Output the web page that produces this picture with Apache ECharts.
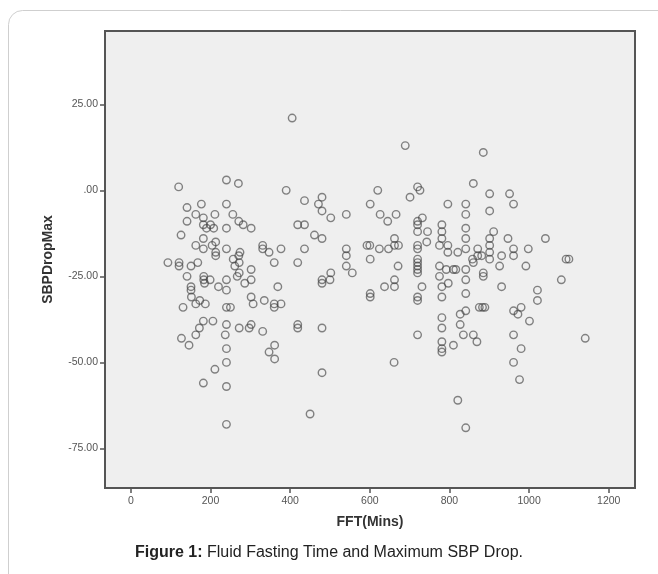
<!DOCTYPE html>
<html>
<head>
<meta charset="utf-8">
<script src="https://cdn.jsdelivr.net/npm/echarts@6/dist/echarts.min.js"></script>
<style>
  html, body { margin: 0; padding: 0; background: #fff; }
  #chart { width: 658px; height: 574px; }
</style>
</head>
<body>
<div id="chart"></div>
<script>
// FFT (mins) vs SBPDropMax: [fft, drop]
var groupShort = [
  [93, -21], [121, -21], [121, -22], [120, 1], [126, -13], [127, -43], [131, -34],
  [141, -5], [141, -9], [141, -25], [146, -45], [151, -22], [151, -28], [151, -29],
  [152, -31], [163, -7], [163, -16], [163, -33], [163, -42], [168, -21], [172, -40],
  [173, -32], [177, -4], [182, -8], [182, -10], [182, -14], [182, -17], [182, -38],
  [182, -56], [183, -25], [183, -26], [185, -27], [187, -33], [190, -11], [199, -26],
  [200, -10], [204, -16], [206, -38], [208, -11], [211, -7], [211, -52], [213, -15],
  [213, -18], [213, -19], [220, -28], [237, -42], [240, 3], [240, -4], [240, -11],
  [240, -17], [240, -26], [240, -29], [240, -34], [240, -39], [240, -46], [240, -50],
  [240, -57], [240, -68], [250, -34], [256, -7], [257, -20], [261, -22], [267, -25],
  [270, 2], [271, -9], [272, -24], [272, -40], [274, -18], [271, -19], [272, -21],
  [282, -10], [286, -27], [297, -40], [302, -11], [302, -23], [302, -26], [302, -31],
  [302, -39], [307, -33], [331, -16], [331, -17], [331, -41], [335, -32], [347, -18],
  [347, -47], [360, -21], [360, -33], [360, -34], [361, -45], [361, -49], [369, -28],
  [377, -17], [377, -33], [390, 0], [405, 21], [419, -10], [419, -21], [419, -39], [419, -40]
];
var groupMid = [
  [436, -3], [436, -10], [436, -17], [450, -65], [461, -13], [471, -4], [480, -2],
  [480, -6], [480, -14], [480, -26], [480, -27], [480, -40], [480, -53], [502, -8],
  [502, -24], [500, -26], [541, -7], [541, -17], [541, -19], [541, -22], [556, -24],
  [593, -16], [600, -16], [601, -4], [601, -20], [601, -30], [601, -31], [620, 0],
  [624, -17], [626, -7], [637, -28], [645, -9], [647, -17], [661, -50], [662, -14],
  [662, -16], [662, -26], [662, -28], [666, -7], [671, -22], [672, -16], [689, 13],
  [701, -2], [720, 1], [726, 0], [732, -8], [720, -9], [720, -10], [720, -12],
  [720, -16], [720, -17], [720, -20], [720, -21], [720, -22], [720, -23], [720, -24],
  [720, -31], [720, -32], [720, -42], [731, -28], [745, -12], [743, -15]
];
var groupLong = [
  [775, -16], [775, -22], [775, -25], [781, -10], [781, -12], [781, -14], [781, -28],
  [781, -31], [781, -37], [781, -40], [781, -44], [781, -46], [781, -47], [792, -23],
  [796, -4], [796, -16], [796, -18], [797, -27], [810, -23], [816, -23], [810, -45],
  [821, -18], [821, -61], [827, -36], [827, -39], [835, -42], [841, -4], [841, -7],
  [841, -11], [841, -14], [841, -17], [841, -23], [841, -26], [841, -30], [841, -35],
  [841, -69], [858, -20], [860, -21], [860, 2], [860, -42], [869, -44], [871, -17],
  [871, -19], [875, -34], [881, -19], [885, 11], [885, -24], [885, -25], [883, -34],
  [889, -34], [901, -1], [901, -6], [911, -12], [901, -14], [901, -16], [901, -18],
  [901, -20], [926, -22], [931, -19], [931, -28], [947, -14], [951, -1], [961, -4],
  [961, -17], [961, -19], [961, -35], [961, -42], [961, -50], [972, -36], [976, -55],
  [980, -34], [980, -46], [992, -22], [998, -17], [1001, -38], [1021, -29], [1021, -32],
  [1041, -14], [1081, -26], [1093, -20], [1100, -20], [1141, -43]
];

var xTicks = [0, 200, 400, 600, 800, 1000, 1200];
var yTicks = [-75, -50, -25, 0, 25];

var axisColor = "#555";
var labelStyle = { color: "#555", fontSize: 10.5, fontFamily: "Liberation Sans" };
var nameStyle = { color: "#333", fontSize: 14, fontWeight: "bold", fontFamily: "Liberation Sans" };

var myChart = echarts.init(document.getElementById("chart"));

function scatter(data) {
  return {
    type: "scatter",
    data: data,
    symbol: "circle",
    symbolSize: 7.5,
    itemStyle: {
      color: "rgba(0,0,0,0)",
      borderColor: "rgba(65,65,65,0.8)",
      borderWidth: 1.4,
    },
    silent: true,
  };
}

var option = {
  backgroundColor: "#fff",
  animation: false,
  grid: {
    left: 105,
    top: 31,
    right: 23,
    bottom: 86,
    show: true,
    backgroundColor: "#efefef",
    borderColor: axisColor,
    borderWidth: 2,
  },
  xAxis: {
    type: "value",
    min: -65,
    max: 1266,
    name: "FFT(Mins)",
    nameLocation: "middle",
    nameGap: 27,
    nameTextStyle: nameStyle,
    splitLine: { show: false },
    axisLine: { show: true, onZero: false, lineStyle: { color: axisColor, width: 2 } },
    axisTick: { show: true, length: 5, customValues: xTicks, lineStyle: { color: axisColor, width: 1.5 } },
    axisLabel: Object.assign({
      customValues: xTicks,
      margin: 8,
      formatter: function (v) {
        return String(v);
      },
    }, labelStyle),
  },
  yAxis: {
    type: "value",
    min: -86.5,
    max: 46.3,
    name: "SBPDropMax",
    nameLocation: "middle",
    nameGap: 50,
    nameTextStyle: nameStyle,
    splitLine: { show: false },
    axisLine: { show: true, onZero: false, lineStyle: { color: axisColor, width: 2 } },
    axisTick: { show: true, length: 5, customValues: yTicks, lineStyle: { color: axisColor, width: 1.5 } },
    axisLabel: Object.assign({
      customValues: yTicks,
      margin: 7,
      formatter: function (v) {
        return v === 0 ? ".00" : v.toFixed(2);
      },
    }, labelStyle),
  },
  graphic: [
    {
      // rounded frame around the figure
      type: "rect",
      shape: { x: 8.5, y: 10.5, width: 680, height: 600, r: 14 },
      style: { fill: "none", stroke: "#cfcfcf", lineWidth: 1 },
      z: -1,
      silent: true,
    },
    {
      type: "text",
      left: "center",
      top: 545,
      style: {
        text: "{b|Figure 1:} Fluid Fasting Time and Maximum SBP Drop.",
        fontSize: 16,
        fontFamily: "Liberation Sans",
        fill: "#222",
        rich: {
          b: { fontSize: 16, fontWeight: "bold", fontFamily: "Liberation Sans", fill: "#222" },
        },
      },
    },
  ],
  series: [scatter(groupShort), scatter(groupMid), scatter(groupLong)],
};

option && myChart.setOption(option);
window.addEventListener("resize", function () {
  myChart.resize();
});
</script>
</body>
</html>
